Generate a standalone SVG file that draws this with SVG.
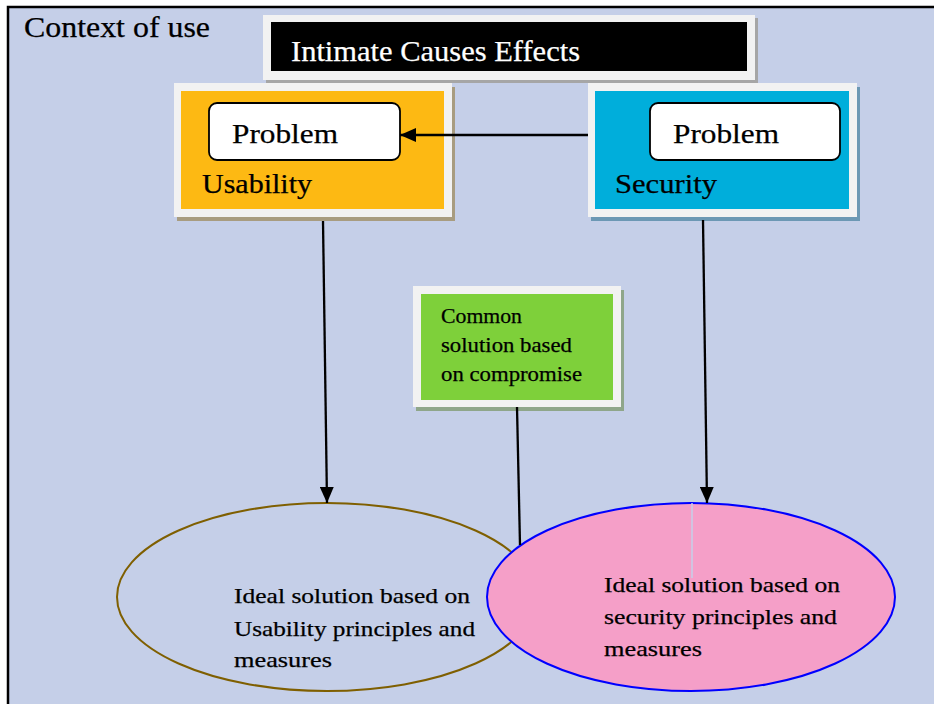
<svg xmlns="http://www.w3.org/2000/svg" width="934" height="704" viewBox="0 0 934 704">
  <style>
    .serif { font-family: "Liberation Serif", "DejaVu Serif", serif; fill: #000; stroke: #000; stroke-width: 0.25; }
    .frame { fill: #F2F2F2; }
    .pbox { fill: #FFFFFF; stroke: #000; stroke-width: 1.8; }
    .link { stroke: #000; stroke-width: 2.3; fill: none; }
  </style>
  <defs>
    <marker id="arrow" markerUnits="userSpaceOnUse" markerWidth="16" markerHeight="14" refX="16" refY="7" orient="auto">
      <path d="M0,0 L16,7 L0,14 Z" fill="#000"/>
    </marker>
  </defs>

  <!-- page background and outer frame -->
  <rect x="0" y="0" width="934" height="704" fill="#FFFFFF"/>
  <rect x="8" y="7" width="926" height="704" fill="#C5CFE8"/>
  <path d="M8,711 V7 H934" fill="none" stroke="#000" stroke-width="2.5"/>
  <text class="serif" x="24" y="37" font-size="29" textLength="186" lengthAdjust="spacingAndGlyphs">Context of use</text>

  <!-- title -->
  <g id="title">
    <rect x="266" y="18" width="492" height="65" fill="#A6A6A6"/>
    <rect class="frame" x="263" y="15" width="492" height="65"/>
    <rect x="271" y="22" width="476" height="49" fill="#000"/>
    <text x="291" y="61" font-family="Liberation Serif, DejaVu Serif, serif" font-size="30" fill="#FFFFFF" stroke="#FFFFFF" stroke-width="0.25" textLength="289" lengthAdjust="spacingAndGlyphs">Intimate Causes Effects</text>
  </g>

  <!-- usability node -->
  <g id="usability">
    <rect x="177" y="87" width="278" height="134" fill="#A89C80"/>
    <rect class="frame" x="174" y="83" width="278" height="134"/>
    <rect x="181" y="91" width="263" height="118" fill="#FDB913"/>
    <rect class="pbox" x="209" y="103" width="191" height="57" rx="8"/>
    <text class="serif" x="232" y="143" font-size="28" textLength="106" lengthAdjust="spacingAndGlyphs">Problem</text>
    <text class="serif" x="202" y="193" font-size="28" textLength="110" lengthAdjust="spacingAndGlyphs">Usability</text>
  </g>

  <!-- security node -->
  <g id="security">
    <rect x="591" y="87" width="269" height="134" fill="#6C98B4"/>
    <rect class="frame" x="588" y="83" width="269" height="134"/>
    <rect x="595" y="91" width="254" height="118" fill="#00AEDB"/>
    <rect class="pbox" x="650" y="103" width="190" height="57" rx="8"/>
    <text class="serif" x="673" y="143" font-size="28" textLength="106" lengthAdjust="spacingAndGlyphs">Problem</text>
    <text class="serif" x="615" y="193" font-size="28" textLength="102" lengthAdjust="spacingAndGlyphs">Security</text>
  </g>

  <!-- compromise node -->
  <g id="compromise">
    <rect x="416" y="290" width="208" height="121" fill="#8FA68A"/>
    <rect class="frame" x="413" y="286" width="208" height="121"/>
    <rect x="421" y="294" width="192" height="106" fill="#7ED03A"/>
    <text class="serif" x="441" y="323" font-size="21" textLength="81" lengthAdjust="spacingAndGlyphs">Common</text>
    <text class="serif" x="441" y="352" font-size="21" textLength="131" lengthAdjust="spacingAndGlyphs">solution based</text>
    <text class="serif" x="441" y="381" font-size="21" textLength="141" lengthAdjust="spacingAndGlyphs">on compromise</text>
  </g>

  <!-- ideal usability solution -->
  <g id="ideal-usability">
    <ellipse cx="327" cy="597" rx="210" ry="94" fill="none" stroke="#7F5F00" stroke-width="2"/>
    <text class="serif" x="234" y="603" font-size="22" textLength="236" lengthAdjust="spacingAndGlyphs">Ideal solution based on</text>
    <text class="serif" x="234" y="636" font-size="22" textLength="241" lengthAdjust="spacingAndGlyphs">Usability principles and</text>
    <text class="serif" x="234" y="667" font-size="22" textLength="98" lengthAdjust="spacingAndGlyphs">measures</text>
  </g>

  <!-- ideal security solution -->
  <g id="ideal-security">
    <ellipse cx="691" cy="597" rx="204" ry="94" fill="#F59FC8" stroke="#0000FF" stroke-width="2"/>
    <line x1="692" y1="503" x2="692" y2="578" stroke="#C5CFE8" stroke-width="1.5"/>
    <text class="serif" x="604" y="592" font-size="22" textLength="236" lengthAdjust="spacingAndGlyphs">Ideal solution based on</text>
    <text class="serif" x="604" y="624" font-size="22" textLength="233" lengthAdjust="spacingAndGlyphs">security principles and</text>
    <text class="serif" x="604" y="656" font-size="22" textLength="98" lengthAdjust="spacingAndGlyphs">measures</text>
  </g>

  <!-- connectors -->
  <g id="connectors">
    <line class="link" x1="588" y1="135" x2="400" y2="135" marker-end="url(#arrow)"/>
    <line class="link" x1="323" y1="221" x2="327" y2="503" marker-end="url(#arrow)"/>
    <line class="link" x1="703" y1="220" x2="707" y2="503" marker-end="url(#arrow)"/>
    <line class="link" x1="517" y1="407" x2="520" y2="545"/>
  </g>
</svg>
